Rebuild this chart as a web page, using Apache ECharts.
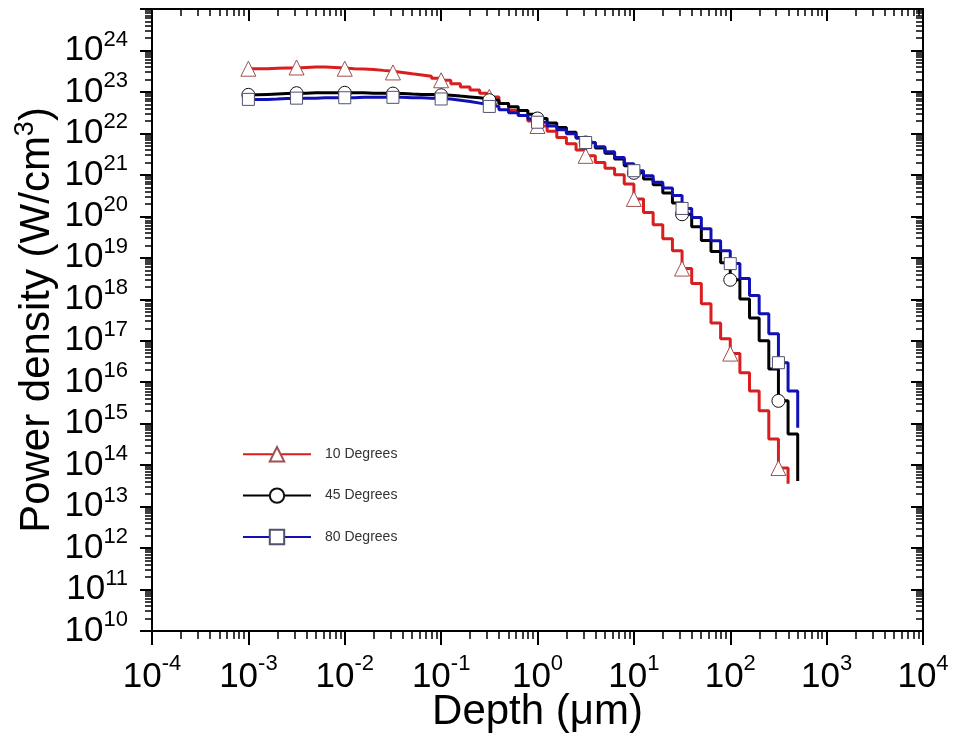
<!DOCTYPE html>
<html><head><meta charset="utf-8">
<script src="https://cdn.jsdelivr.net/npm/echarts@6/dist/echarts.min.js"></script>
<style>html,body{margin:0;padding:0;background:#fff}#c{width:953px;height:744px}</style>
</head><body><div id="c"></div>
<script>
// Depth bins (µm)
const depth = [0.001,0.001259,0.001585,0.001995,0.002512,0.003162,0.003981,0.005012,0.00631,0.007943,
  0.01,0.01259,0.01585,0.01995,0.02512,0.03162,0.03981,0.05012,0.0631,0.07943,
  0.1,0.1259,0.1585,0.1995,0.2512,0.3162,0.3981,0.5012,0.631,0.7943,
  1,1.259,1.585,1.995,2.512,3.162,3.981,5.012,6.31,7.943,
  10,12.59,15.85,19.95,25.12,31.62,39.81,50.12,63.1,79.43,
  100,125.9,158.5,199.5,251.2,316.2,398.1,501.2];

// Power density (W/cm^3)
const deg10 = [3.63e23,3.63e23,3.72e23,3.80e23,3.80e23,3.89e23,3.98e23,3.98e23,3.89e23,3.80e23,
  3.63e23,3.55e23,3.47e23,3.31e23,3.16e23,2.95e23,2.75e23,2.57e23,2.40e23,2.14e23,
  1.91e23,1.58e23,1.32e23,1.12e23,9.33e22,7.59e22,5.25e22,3.63e22,2.69e22,2.00e22,
  1.51e22,1.12e22,7.94e21,5.62e21,3.98e21,2.88e21,2.00e21,1.45e21,1.00e21,6.03e20,
  2.63e20,1.23e20,6.31e19,2.88e19,1.48e19,5.50e18,2.40e18,7.76e17,2.69e17,1.12e17,
  4.90e16,1.70e16,6.17e15,2.04e15,4.27e14,8.51e13,3.55e13];
const deg45 = [8.51e22,8.71e22,8.91e22,9.12e22,9.33e22,9.33e22,9.55e22,9.55e22,9.55e22,9.55e22,
  9.55e22,9.55e22,9.33e22,9.33e22,9.12e22,9.12e22,8.91e22,8.71e22,8.71e22,8.51e22,
  8.32e22,7.94e22,7.59e22,7.24e22,6.76e22,6.31e22,5.25e22,4.37e22,3.55e22,2.88e22,
  2.29e22,1.78e22,1.38e22,1.07e22,7.94e21,6.03e21,4.47e21,3.31e21,2.40e21,1.66e21,
  1.12e21,7.94e20,5.75e20,3.63e20,2.09e20,1.12e20,5.62e19,2.63e19,1.41e19,7.59e18,
  2.95e18,1.02e18,3.55e17,1.00e17,2.09e16,3.55e15,5.62e14,4.17e13];
const deg80 = [6.61e22,6.61e22,6.76e22,6.92e22,6.92e22,7.08e22,7.08e22,7.24e22,7.24e22,7.24e22,
  7.24e22,7.41e22,7.41e22,7.41e22,7.41e22,7.41e22,7.24e22,7.24e22,7.08e22,6.92e22,
  6.76e22,6.31e22,5.89e22,5.37e22,4.90e22,4.47e22,3.72e22,3.16e22,2.69e22,2.24e22,
  1.86e22,1.51e22,1.23e22,9.77e21,7.59e21,6.03e21,4.79e21,3.63e21,2.63e21,1.86e21,
  1.26e21,9.55e20,6.61e20,4.79e20,3.16e20,1.55e20,9.33e19,5.01e19,2.57e19,1.48e19,
  7.24e18,3.16e18,1.23e18,4.47e17,1.48e17,2.95e16,6.17e15,7.94e14];

const seriesNames = ['10 Degrees','45 Degrees','80 Degrees'];
const xMinExp = -4, xMaxExp = 4;
const yMinExp = 10, yMaxExp = 25;
const markerStep = 5;

function pts(vals){
  return vals.map((v,i)=> i % markerStep === 0 ? [depth[i], v] : {value:[depth[i], v], symbol:'none'});
}
function minorTicks(a,b){
  const out=[]; for(let e=a;e<b;e++) for(let m=2;m<=9;m++) out.push(e+Math.log10(m)); return out;
}
const FONT = '"Liberation Sans", Arial, sans-serif';
function richFor(lh){
  return {
    b:{fontSize:35, fontFamily:FONT, color:'#000', lineHeight:lh, verticalAlign:'middle'},
    s:{fontSize:22, fontFamily:FONT, color:'#000', lineHeight:16, verticalAlign:'top'}
  };
}
function powLabel(v){
  const e = Math.round(Math.log10(v));
  if (e === yMaxExp && v > 1e20) return '';
  return '{b|10}{s|' + e + '}';
}
const lineBlack = {color:'#000', width:2};
const tickMajor = {color:'#000', width:2};
const tickMinor = {color:'#000', width:1.5};

function logAxis(pos, min, max, labels, inside, len){
  const isY = (pos==='left' || pos==='right');
  return {
    type:'log', logBase:10, position:pos, min:min, max:max, interval:1,
    axisLine:{show:true, lineStyle:lineBlack, onZero:false},
    axisTick:{show:true, inside:inside, length:len, lineStyle:tickMajor},
    axisLabel:{show:labels, formatter:powLabel, rich:richFor(isY?44:48), margin:(isY?24:22)},
    splitLine:{show:false}, minorTick:{show:false}
  };
}
function minorAxis(pos, a, b, inside, len){
  return {
    type:'value', position:pos, min:a, max:b,
    axisLine:{show:false, onZero:false},
    axisTick:{show:true, inside:inside, length:len, lineStyle:tickMinor, customValues:minorTicks(a,b)},
    axisLabel:{show:false}, splitLine:{show:false}
  };
}

const xAxes = [
  Object.assign(logAxis('bottom', Math.pow(10,xMinExp), Math.pow(10,xMaxExp), true, false, 14), {
    name:'Depth (μm)', nameLocation:'middle', nameGap:59, nameMoveOverlap:false,
    nameTextStyle:{fontSize:42, fontFamily:FONT, color:'#000', lineHeight:44}
  }),
  logAxis('top', Math.pow(10,xMinExp), Math.pow(10,xMaxExp), false, true, 12),
  minorAxis('bottom', xMinExp, xMaxExp, false, 8),
  minorAxis('top', xMinExp, xMaxExp, true, 7)
];
const yAxes = [
  Object.assign(logAxis('left', Math.pow(10,yMinExp), Math.pow(10,yMaxExp), true, false, 12), {
    name:'{a|Power density (W/cm}{s|3}{a|)}', nameLocation:'middle', nameGap:90, nameMoveOverlap:false,
    nameTextStyle:{rich:{
      a:{fontSize:42, fontFamily:FONT, color:'#000', lineHeight:50, verticalAlign:'middle'},
      s:{fontSize:27, fontFamily:FONT, color:'#000', lineHeight:26, verticalAlign:'top'}
    }}
  }),
  logAxis('right', Math.pow(10,yMinExp), Math.pow(10,yMaxExp), false, true, 12),
  minorAxis('left', yMinExp, yMaxExp, false, 7),
  minorAxis('right', yMinExp, yMaxExp, true, 7)
];

const styles = [
  {line:'#d81e1e', sym:'triangle', border:'#a05050', size:15, vals:deg10},
  {line:'#000000', sym:'circle', border:'#111111', size:13, vals:deg45},
  {line:'#1010b4', sym:'rect', border:'#505070', size:12, vals:deg80}
];

const chart = echarts.init(document.getElementById('c'), null, {renderer:'canvas'});
chart.setOption({
  backgroundColor:'#fff',
  animation:false,
  grid:{left:152, right:30, top:9, bottom:113, containLabel:false, outerBoundsMode:'none'},
  xAxis:xAxes,
  yAxis:yAxes,
  legend:{
    orient:'vertical', left:237, top:441, itemWidth:68, itemHeight:18, itemGap:25,
    textStyle:{fontSize:14, fontFamily:FONT, color:'#333', padding:[0,0,0,9]},
    data:seriesNames
  },
  series: styles.map((s,i)=>({
    name:seriesNames[i], type:'line', step:'end', xAxisIndex:0, yAxisIndex:0,
    data:pts(s.vals), symbol:s.sym, symbolSize:s.size, showAllSymbol:true,
    lineStyle:{color:s.line, width:3},
    itemStyle:{color:'#ffffff', borderColor:s.border, borderWidth:1},
    emphasis:{disabled:true}, z:2+i
  }))
});
</script></body></html>
